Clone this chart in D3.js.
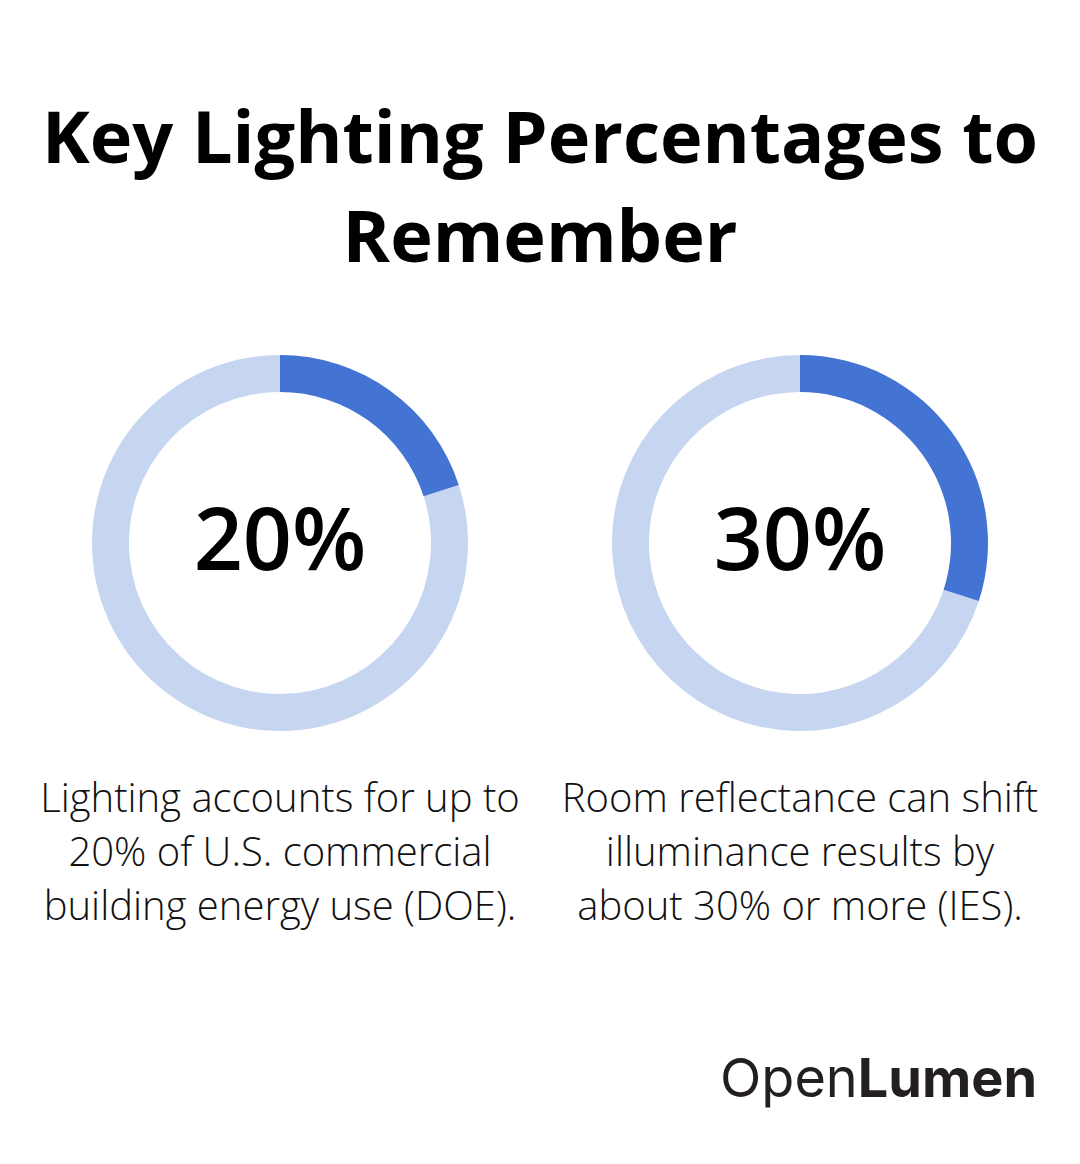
<!DOCTYPE html>
<html><head><meta charset="utf-8">
<script src="https://cdn.jsdelivr.net/npm/d3@7"></script>
<style>body{margin:0;background:#fff}</style>
</head><body>
<script>
const titleLines = ["Key Lighting Percentages to", "Remember"];
const labels = ["20%", "30%"];
const values = [20, 30];
const descriptions = [
  ["Lighting accounts for up to", "20% of U.S. commercial", "building energy use (DOE)."],
  ["Room reflectance can shift", "illuminance results by", "about 30% or more (IES)."]
];

const W = 1080, H = 1164;
const svg = d3.select("body").append("svg").attr("width", W).attr("height", H);
svg.append("rect").attr("width", W).attr("height", H).attr("fill", "#fff");

svg.selectAll("text.title").data(titleLines).join("text")
  .attr("x", 540).attr("y", (d, i) => 163 + i * 99)
  .attr("text-anchor", "middle")
  .attr("font-family", "Open Sans").attr("font-weight", 700).attr("font-size", 72)
  .attr("fill", "#000").text(d => d);

const x = d3.scaleBand().domain(d3.range(values.length)).range([20, 1060]);
const pct = d3.scaleLinear().domain([0, 100]).range([0, 2 * Math.PI]);
const arc = d3.arc().innerRadius(151).outerRadius(188);

values.forEach((v, i) => {
  const cx = x(i) + x.bandwidth() / 2, cy = 543;
  const g = svg.append("g").attr("transform", `translate(${cx},${cy})`);
  g.append("path").attr("d", arc({startAngle: pct(v), endAngle: pct(100)})).attr("fill", "#c6d6f1");
  g.append("path").attr("d", arc({startAngle: 0, endAngle: pct(v)})).attr("fill", "#4373d3");
  g.append("text").attr("y", 27).attr("text-anchor", "middle")
    .attr("font-family", "Open Sans").attr("font-weight", 600).attr("font-size", 86)
    .attr("fill", "#000").text(labels[i]);
  svg.selectAll(null).data(descriptions[i]).join("text")
    .attr("x", cx).attr("y", (d, j) => 812 + j * 54)
    .attr("text-anchor", "middle")
    .attr("font-family", "Open Sans").attr("font-weight", 300).attr("font-size", 40)
    .attr("fill", "#111").text(d => d);
});

const logo = svg.append("text").attr("x", 1037).attr("y", 1097).attr("text-anchor", "end")
  .attr("font-family", "Inter").attr("font-size", 54).attr("fill", "#231f20").attr("letter-spacing", 0);
logo.append("tspan").attr("font-weight", 400).text("Open");
logo.append("tspan").attr("font-weight", 700).text("Lumen");
</script>
</body></html>
